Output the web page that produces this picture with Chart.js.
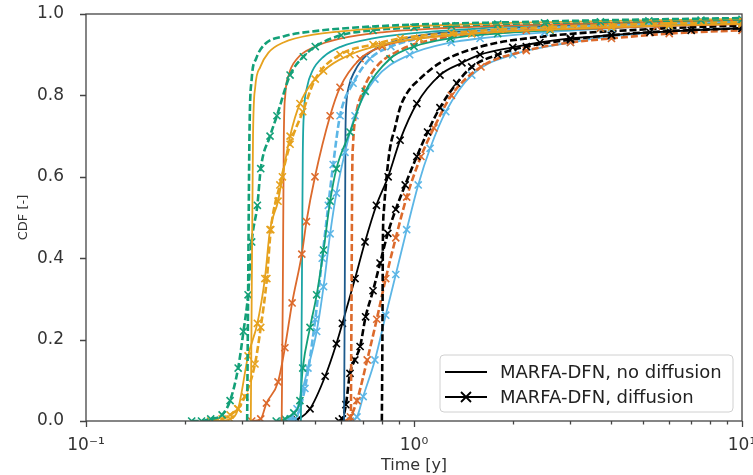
<!DOCTYPE html>
<html>
<head>
<meta charset="utf-8">
<script src="https://cdn.jsdelivr.net/npm/chart.js@4.4.1/dist/chart.umd.min.js"></script>
<style>
  html, body { margin: 0; padding: 0; background: #fff; }
  #wrap { width: 753px; height: 475px; }
</style>
</head>
<body>
<div id="wrap"><canvas id="cdfChart" width="753" height="475"></canvas></div>
<script>
// Time [y] / CDF pairs, one pair per curve
const greenDashT = [0.31, 0.312, 0.315, 0.32, 0.33, 0.35, 0.4, 0.5, 0.7, 1, 2, 4, 10];
const greenDashY = [0, 0.3, 0.7, 0.84, 0.89, 0.925, 0.945, 0.958, 0.968, 0.974, 0.98, 0.985, 0.99];

const yellowSolidT = [0.318, 0.32, 0.323, 0.328, 0.34, 0.36, 0.4, 0.5, 0.7, 1, 2, 4, 10];
const yellowSolidY = [0, 0.3, 0.7, 0.82, 0.87, 0.905, 0.93, 0.95, 0.962, 0.97, 0.978, 0.983, 0.988];

const greenDashXT = [0.21, 0.225, 0.24, 0.26, 0.275, 0.291, 0.302, 0.312, 0.32, 0.333, 0.341, 0.364, 0.382, 0.419, 0.46, 0.5, 0.6, 0.75, 1, 1.3, 1.8, 2.5, 3.7, 5.2, 7.5, 10];
const greenDashXY = [0, 0, 0.005, 0.015, 0.05, 0.13, 0.22, 0.31, 0.44, 0.53, 0.62, 0.7, 0.75, 0.85, 0.895, 0.92, 0.948, 0.96, 0.967, 0.971, 0.975, 0.978, 0.981, 0.983, 0.985, 0.987];

const yellowDashXT = [0.24, 0.26, 0.275, 0.29, 0.305, 0.3275, 0.341, 0.356, 0.366, 0.39, 0.419, 0.458, 0.5, 0.595, 0.75, 0.907, 1.3, 1.83, 2.6, 4, 6, 10];
const yellowDashXY = [0, 0.005, 0.015, 0.03, 0.06, 0.14, 0.23, 0.35, 0.47, 0.58, 0.68, 0.76, 0.84, 0.9, 0.925, 0.94, 0.953, 0.962, 0.968, 0.973, 0.977, 0.98];

const yellowXT = [0.25, 0.275, 0.291, 0.312, 0.333, 0.351, 0.364, 0.385, 0.397, 0.419, 0.449, 0.53, 0.638, 0.8, 1.04, 1.5, 2.6, 4, 6, 10];
const yellowXY = [0, 0.005, 0.03, 0.16, 0.24, 0.35, 0.47, 0.54, 0.6, 0.7, 0.78, 0.86, 0.9, 0.925, 0.94, 0.952, 0.962, 0.968, 0.972, 0.976];

const vermSolidT = [0.395, 0.398, 0.401, 0.405, 0.415, 0.44, 0.5, 0.6, 0.8, 1.2, 2, 4, 10];
const vermSolidY = [0, 0.3, 0.7, 0.8, 0.85, 0.89, 0.92, 0.94, 0.955, 0.965, 0.972, 0.978, 0.985];

const vermXT = [0.32, 0.341, 0.355, 0.385, 0.404, 0.425, 0.455, 0.47, 0.499, 0.555, 0.595, 0.685, 0.8, 1.04, 1.5, 2.2, 3.7, 5.5, 10];
const vermXY = [0, 0.005, 0.044, 0.096, 0.18, 0.29, 0.41, 0.49, 0.6, 0.75, 0.82, 0.89, 0.92, 0.94, 0.952, 0.96, 0.965, 0.97, 0.975];

const tealSolidT = [0.452, 0.455, 0.458, 0.462, 0.472, 0.49, 0.53, 0.6, 0.75, 1.0, 1.6, 3, 6, 10];
const tealSolidY = [0, 0.3, 0.65, 0.76, 0.82, 0.86, 0.895, 0.92, 0.94, 0.953, 0.965, 0.975, 0.982, 0.985];

const greenXT = [0.38, 0.404, 0.43, 0.449, 0.458, 0.482, 0.505, 0.53, 0.555, 0.58, 0.638, 0.71, 0.845, 1.0, 1.29, 1.8, 2.6, 3.7, 6, 10];
const greenXY = [0, 0.005, 0.02, 0.05, 0.13, 0.23, 0.31, 0.42, 0.54, 0.62, 0.71, 0.81, 0.89, 0.92, 0.94, 0.952, 0.96, 0.965, 0.972, 0.977];

const skyXT = [0.4, 0.419, 0.44, 0.475, 0.505, 0.53, 0.555, 0.58, 0.616, 0.661, 0.76, 0.97, 1.3, 1.59, 2.5, 4, 6, 10];
const skyXY = [0, 0.005, 0.03, 0.13, 0.22, 0.33, 0.46, 0.56, 0.66, 0.75, 0.84, 0.9, 0.93, 0.94, 0.955, 0.965, 0.972, 0.977];

const skyDashXT = [0.42, 0.434, 0.465, 0.5, 0.525, 0.548, 0.567, 0.595, 0.652, 0.734, 0.85, 1.04, 1.5, 2.6, 4, 6, 10];
const skyDashXY = [0, 0.005, 0.08, 0.25, 0.4, 0.53, 0.63, 0.75, 0.83, 0.89, 0.92, 0.94, 0.955, 0.966, 0.972, 0.977, 0.98];

const navySolidT = [0.612, 0.615, 0.618, 0.622, 0.632, 0.66, 0.72, 0.85, 1.1, 1.6, 3, 6, 10];
const navySolidY = [0, 0.3, 0.7, 0.78, 0.82, 0.86, 0.9, 0.93, 0.95, 0.96, 0.972, 0.98, 0.985];

const vermDashT = [0.642, 0.645, 0.648, 0.652, 0.665, 0.69, 0.75, 0.9, 1.2, 1.8, 3, 6, 10];
const vermDashY = [0, 0.3, 0.6, 0.68, 0.75, 0.8, 0.86, 0.91, 0.94, 0.955, 0.965, 0.975, 0.98];

const blackXT = [0.42, 0.44, 0.482, 0.536, 0.58, 0.605, 0.661, 0.709, 0.768, 0.834, 0.907, 1.02, 1.2, 1.4, 1.59, 2.0, 2.42, 3.0, 4.0, 5.24, 7.0, 10];
const blackXY = [0, 0.003, 0.03, 0.11, 0.19, 0.24, 0.35, 0.44, 0.53, 0.6, 0.69, 0.78, 0.85, 0.88, 0.9, 0.918, 0.93, 0.94, 0.948, 0.955, 0.96, 0.965];

const blackDashT = [0.798, 0.801, 0.804, 0.81, 0.825, 0.845, 0.875, 0.907, 0.96, 1.04, 1.2, 1.6, 2.5, 5, 10];
const blackDashY = [0, 0.2, 0.45, 0.52, 0.6, 0.67, 0.72, 0.77, 0.81, 0.84, 0.88, 0.92, 0.945, 0.962, 0.972];

const blackDashXT = [0.59, 0.605, 0.62, 0.638, 0.66, 0.685, 0.712, 0.75, 0.788, 0.832, 0.88, 0.94, 1.02, 1.1, 1.2, 1.35, 1.5, 1.8, 2.2, 3, 4, 6, 10];
const blackDashXY = [0, 0.005, 0.04, 0.117, 0.15, 0.183, 0.256, 0.32, 0.388, 0.461, 0.52, 0.58, 0.65, 0.71, 0.77, 0.83, 0.87, 0.9, 0.92, 0.937, 0.948, 0.958, 0.965];

const vermDashXT = [0.62, 0.64, 0.67, 0.72, 0.77, 0.82, 0.88, 0.95, 1.05, 1.15, 1.3, 1.6, 2.2, 3, 4, 6, 10];
const vermDashXY = [0, 0.01, 0.05, 0.15, 0.25, 0.35, 0.45, 0.55, 0.65, 0.72, 0.8, 0.87, 0.91, 0.93, 0.94, 0.952, 0.96];

const skyX2T = [0.64, 0.67, 0.7, 0.76, 0.82, 0.88, 0.95, 1.03, 1.12, 1.25, 1.5, 2, 3, 4, 6, 10];
const skyX2Y = [0, 0.01, 0.06, 0.15, 0.26, 0.36, 0.47, 0.58, 0.67, 0.76, 0.85, 0.9, 0.93, 0.945, 0.957, 0.965];

// axis ticks
const xMajor = [0.1, 1, 10];
const xMajorLabels = ['10\u207B\u00B9', '10\u2070', '10\u00B9'];
const xMinor = [0.2, 0.3, 0.4, 0.5, 0.6, 0.7, 0.8, 0.9, 2, 3, 4, 5, 6, 7, 8, 9];
const yTicks = [0, 0.2, 0.4, 0.6, 0.8, 1.0];

const legendLabels = ['MARFA-DFN, no diffusion', 'MARFA-DFN, diffusion'];

const GREEN = '#13a078';
const YELLOW = '#e6a21e';
const VERM = '#dc6a2c';
const TEAL = '#1ba5a5';
const SKY = '#5cb6e6';
const NAVY = '#1d5a8c';
const BLACK = '#000000';

function series(label, times, cdf, color, dashed, marked) {
    return {
        label: label,
        data: times.map((t, i) => ({ x: t, y: cdf[i] })),
        borderColor: color,
        backgroundColor: color,
        borderWidth: dashed ? 2.6 : 1.8,
        borderDash: dashed ? [7, 3] : [],
        pointStyle: 'crossRot',
        pointRadius: marked ? 5 : 0,
        pointBorderColor: color,
        pointBorderWidth: 1.6,
        pointHoverRadius: 0,
        cubicInterpolationMode: 'monotone'
    };
}

const datasets = [
    series('green dashed', greenDashT, greenDashY, GREEN, true, false),
    series('yellow solid', yellowSolidT, yellowSolidY, YELLOW, false, false),
    series('green dashed x', greenDashXT, greenDashXY, GREEN, true, true),
    series('yellow dashed x', yellowDashXT, yellowDashXY, YELLOW, true, true),
    series('yellow x', yellowXT, yellowXY, YELLOW, false, true),
    series('vermilion solid', vermSolidT, vermSolidY, VERM, false, false),
    series('vermilion x', vermXT, vermXY, VERM, false, true),
    series('teal solid', tealSolidT, tealSolidY, TEAL, false, false),
    series('green x', greenXT, greenXY, GREEN, false, true),
    series('sky x', skyXT, skyXY, SKY, false, true),
    series('sky dashed x', skyDashXT, skyDashXY, SKY, true, true),
    series('navy solid', navySolidT, navySolidY, NAVY, false, false),
    series('vermilion dashed', vermDashT, vermDashY, VERM, true, false),
    series('black x', blackXT, blackXY, BLACK, false, true),
    series('black dashed', blackDashT, blackDashY, BLACK, true, false),
    series('black dashed x', blackDashXT, blackDashXY, BLACK, true, true),
    series('vermilion dashed x', vermDashXT, vermDashXY, VERM, true, true),
    series('sky x 2', skyX2T, skyX2Y, SKY, false, true)
];

// frame, tick marks and the inset legend
const frameAndLegend = {
    id: 'frameAndLegend',
    afterDraw(chart) {
        const { ctx, chartArea: a, scales: { x, y } } = chart;
        ctx.save();
        ctx.strokeStyle = '#444';
        ctx.lineWidth = 1.3;
        ctx.strokeRect(a.left, a.top, a.right - a.left, a.bottom - a.top);

        ctx.beginPath();
        xMajor.forEach(v => {
            const px = Math.round(x.getPixelForValue(v)) + 0.5;
            ctx.moveTo(px, a.bottom); ctx.lineTo(px, a.bottom + 6);
        });
        xMinor.forEach(v => {
            const px = Math.round(x.getPixelForValue(v)) + 0.5;
            ctx.moveTo(px, a.bottom); ctx.lineTo(px, a.bottom + 3.5);
        });
        yTicks.forEach(v => {
            const py = Math.round(y.getPixelForValue(v)) + 0.5;
            ctx.moveTo(a.left, py); ctx.lineTo(a.left - 6, py);
        });
        ctx.stroke();

        // legend box
        const bw = 293, bh = 57;
        const bx = a.right - 9 - bw, by = a.bottom - 9 - bh;
        ctx.beginPath();
        ctx.roundRect(bx, by, bw, bh, 4);
        ctx.fillStyle = 'rgba(255,255,255,0.85)';
        ctx.fill();
        ctx.strokeStyle = '#d0d0d0';
        ctx.lineWidth = 1;
        ctx.stroke();

        ctx.font = '18px "DejaVu Sans"';
        ctx.textBaseline = 'middle';
        ctx.textAlign = 'left';
        legendLabels.forEach((txt, i) => {
            const ly = by + 17 + i * 25;
            ctx.strokeStyle = '#000';
            ctx.lineWidth = 1.8;
            ctx.beginPath();
            ctx.moveTo(bx + 5, ly); ctx.lineTo(bx + 47, ly);
            if (i === 1) {
                const cx = bx + 26, r = 5;
                ctx.moveTo(cx - r, ly - r); ctx.lineTo(cx + r, ly + r);
                ctx.moveTo(cx - r, ly + r); ctx.lineTo(cx + r, ly - r);
            }
            ctx.stroke();
            ctx.fillStyle = '#222';
            ctx.fillText(txt, bx + 60, ly + 1);
        });
        ctx.restore();
    }
};

Chart.defaults.font.family = '"DejaVu Sans", sans-serif';
Chart.defaults.color = '#333';

const ctx = document.getElementById('cdfChart').getContext('2d');
new Chart(ctx, {
    type: 'line',
    data: { datasets: datasets },
    options: {
        responsive: false,
        animation: false,
        devicePixelRatio: 1,
        layout: { padding: { top: 14, right: 11, left: 0, bottom: 0 } },
        plugins: {
            legend: { display: false },
            tooltip: { enabled: false }
        },
        scales: {
            x: {
                type: 'logarithmic',
                min: 0.1,
                max: 10,
                grid: { display: false },
                border: { display: false },
                afterBuildTicks: scale => { scale.ticks = xMajor.map(v => ({ value: v })); },
                afterFit: scale => { scale.height = 54; scale.paddingLeft = 0; scale.paddingRight = 0; },
                ticks: {
                    padding: 6,
                    autoSkip: false,
                    maxRotation: 0,
                    font: { size: 17 },
                    callback: (value, index) => xMajorLabels[index]
                },
                title: {
                    display: true,
                    text: 'Time [y]',
                    font: { size: 16 },
                    padding: { top: 0, bottom: 0 }
                }
            },
            y: {
                type: 'linear',
                min: 0,
                max: 1,
                grid: { display: false },
                border: { display: false },
                afterBuildTicks: scale => { scale.ticks = yTicks.map(v => ({ value: v })); },
                afterFit: scale => { scale.width = 86; scale.paddingTop = 0; scale.paddingBottom = 0; },
                ticks: {
                    padding: 14,
                    font: { size: 17 },
                    callback: value => value.toFixed(1)
                },
                title: {
                    display: true,
                    text: 'CDF [-]',
                    font: { size: 13 },
                    padding: { top: 16, bottom: 0 }
                }
            }
        }
    },
    plugins: [frameAndLegend]
});
</script>
</body>
</html>
